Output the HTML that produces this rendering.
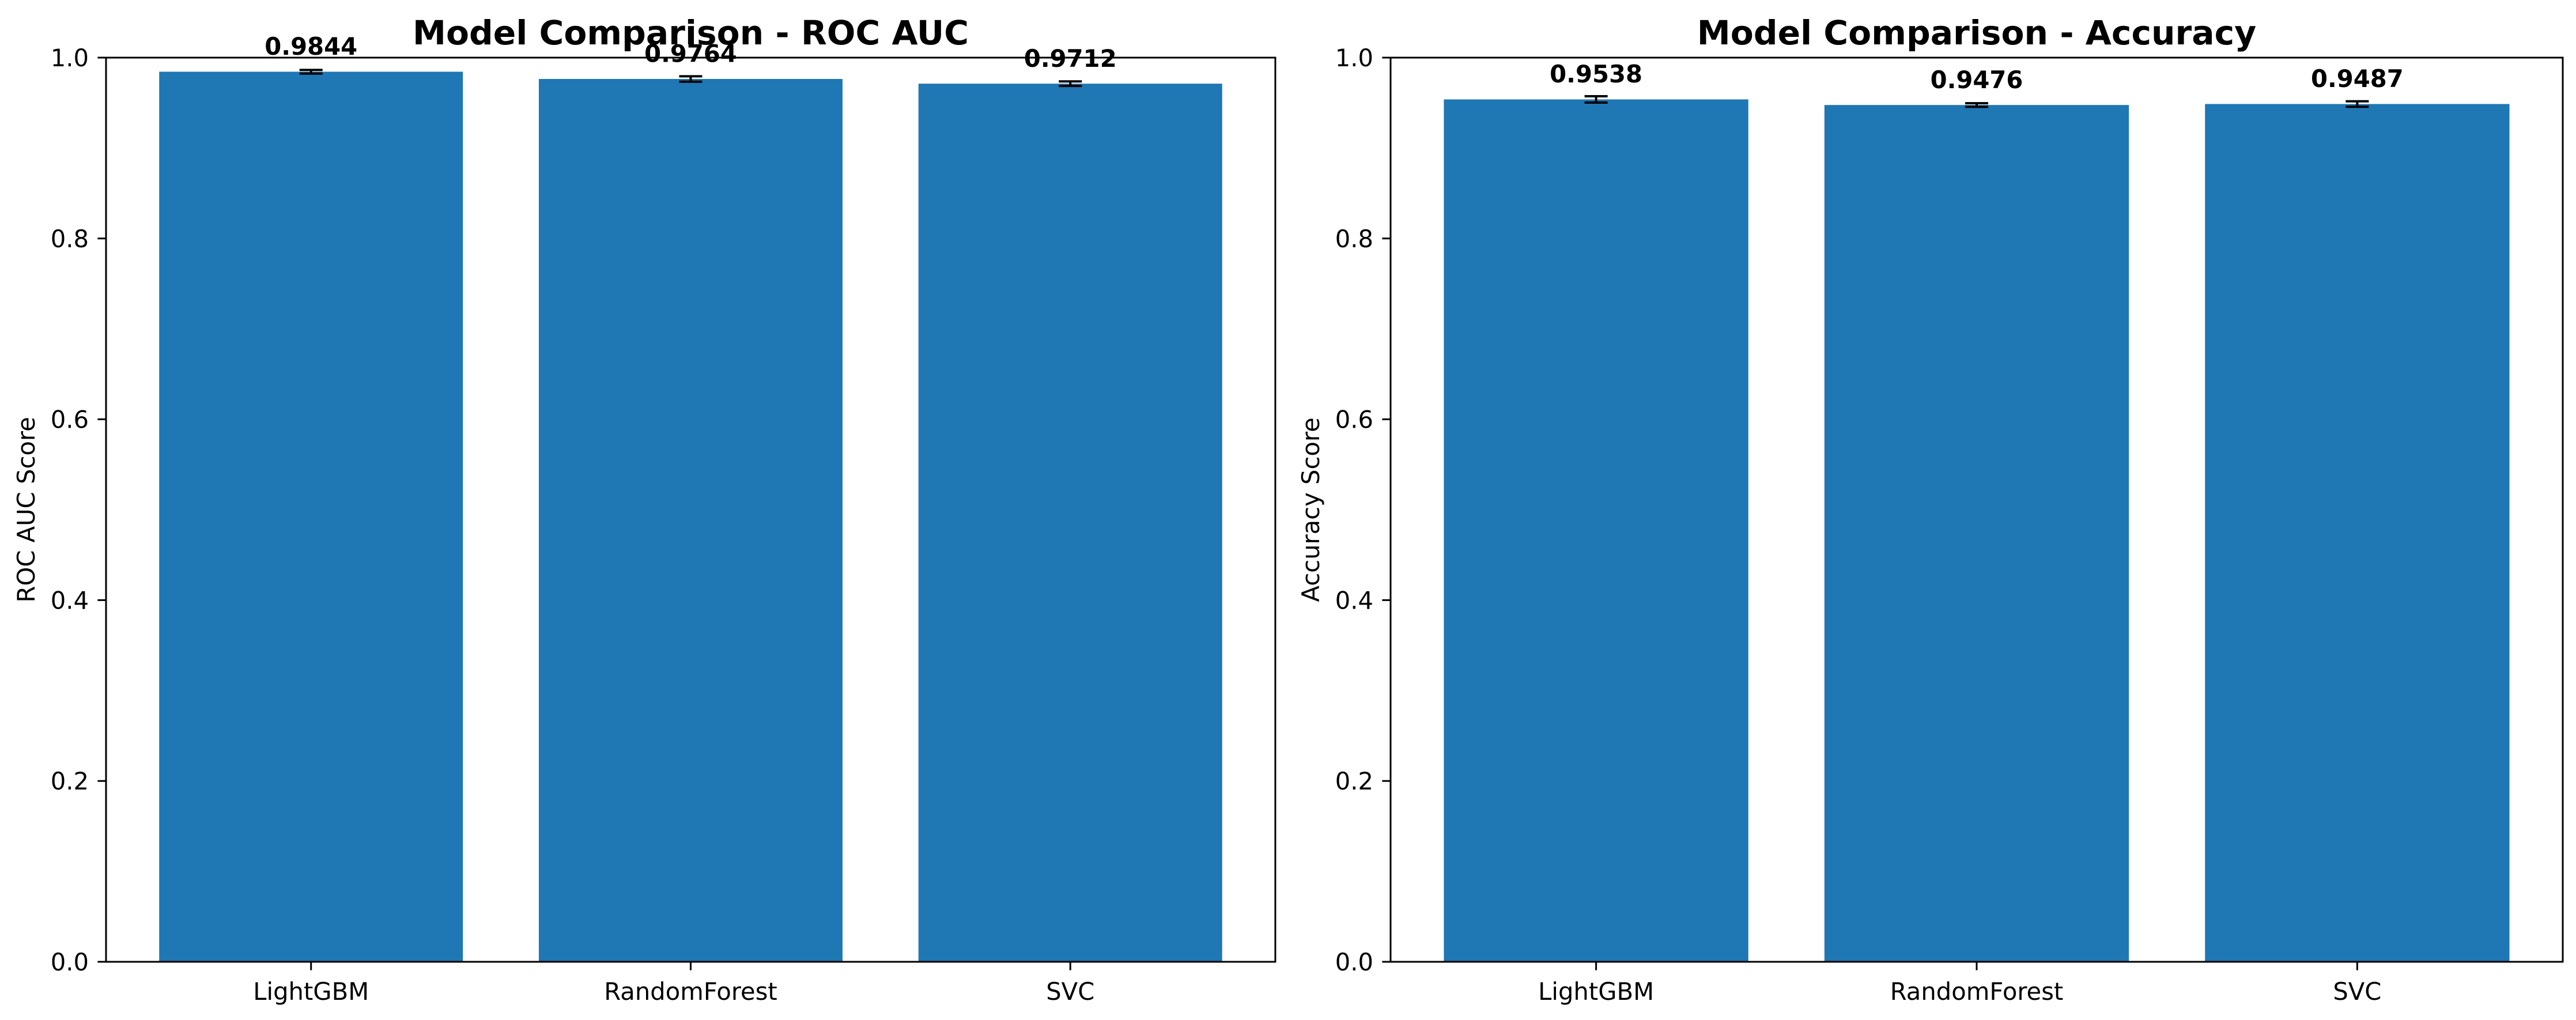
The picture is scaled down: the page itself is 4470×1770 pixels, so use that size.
<!DOCTYPE html>
<html><head><meta charset="utf-8"><style>
html,body{margin:0;padding:0;background:#fff;}
svg{display:block;font-family:"DejaVu Sans","Liberation Sans",sans-serif;}
</style></head><body>
<svg id="chart" width="4470" height="1770" viewBox="0 0 4470 1770"></svg>
<script>
const categories = ["LightGBM", "RandomForest", "SVC"];
const rocValues = [0.9844, 0.9764, 0.9712];
const rocErrors = [0.0020, 0.0030, 0.0025];
const accValues = [0.9538, 0.9476, 0.9487];
const accErrors = [0.0035, 0.0020, 0.0030];
const yTicks = [0.0, 0.2, 0.4, 0.6, 0.8, 1.0];
const yTickLabels = ["0.0", "0.2", "0.4", "0.6", "0.8", "1.0"];

const NS = "http://www.w3.org/2000/svg";
const svg = document.getElementById("chart");
function mk(tag, attrs, parent) {
  const e = document.createElementNS(NS, tag);
  for (const k in attrs) e.setAttribute(k, attrs[k]);
  (parent || svg).appendChild(e);
  return e;
}

function panel(prefix, x0, x1, title, ylabel, values, errors) {
  const yTop = 100, yBot = 1669;
  const xMin = -0.54, xMax = 2.54;
  const sx = v => x0 + (v - xMin) / (xMax - xMin) * (x1 - x0);
  const sy = v => yBot - v * (yBot - yTop);
  const g = mk("g", {});
  
  

  values.forEach((v, i) => {
    const bl = sx(i - 0.4), br = sx(i + 0.4);
    const r = mk("rect", {x: bl, y: sy(v), width: br - bl, height: sy(0) - sy(v), fill: "#1f77b4"}, g);
    
    
    const cx = sx(i), e = errors[i];
    const eb = mk("g", {stroke: "#000", "stroke-width": 4}, g);
    
    
    mk("line", {x1: cx, x2: cx, y1: sy(v - e), y2: sy(v + e)}, eb);
    mk("line", {x1: cx - 20, x2: cx + 20, y1: sy(v - e), y2: sy(v - e)}, eb);
    mk("line", {x1: cx - 20, x2: cx + 20, y1: sy(v + e), y2: sy(v + e)}, eb);
    const t = mk("text", {x: cx, y: sy(v + 0.02) + 2, "text-anchor": "middle", "font-size": 41.7, "font-weight": "bold"}, g);
    t.textContent = v.toFixed(4);
    
    
    const tk = mk("line", {x1: cx, x2: cx, y1: yBot, y2: yBot + 14.6, stroke: "#000", "stroke-width": 3}, g);
    
    
    const tl = mk("text", {x: cx, y: yBot + 66, "text-anchor": "middle", "font-size": 41.7}, g);
    tl.textContent = categories[i];
    
    
  });

  yTicks.forEach((v, i) => {
    const tk = mk("line", {x1: x0 - 14.6, x2: x0, y1: sy(v), y2: sy(v), stroke: "#000", "stroke-width": 3}, g);
    
    
    const tl = mk("text", {x: x0 - 30, y: sy(v) + 15, "text-anchor": "end", "font-size": 41.7}, g);
    tl.textContent = yTickLabels[i];
    
    
  });

  const fr = mk("rect", {x: x0, y: yTop, width: x1 - x0, height: yBot - yTop, fill: "none", stroke: "#000", "stroke-width": 3}, g);
  
  

  const tt = mk("text", {x: (x0 + x1) / 2, y: 77, "text-anchor": "middle", "font-size": 58.3, "font-weight": "bold"}, g);
  tt.textContent = title;
  
  

  const lx = x0 - 124, ly = (yTop + yBot) / 2;
  const yl = mk("text", {x: lx, y: ly, "text-anchor": "middle", "font-size": 41.7, transform: "rotate(-90 " + lx + " " + ly + ")"}, g);
  yl.textContent = ylabel;
  
  
}

panel("roc-auc", 184, 2213, "Model Comparison - ROC AUC", "ROC AUC Score", rocValues, rocErrors);
panel("accuracy", 2413, 4447, "Model Comparison - Accuracy", "Accuracy Score", accValues, accErrors);
</script>
</body></html>
